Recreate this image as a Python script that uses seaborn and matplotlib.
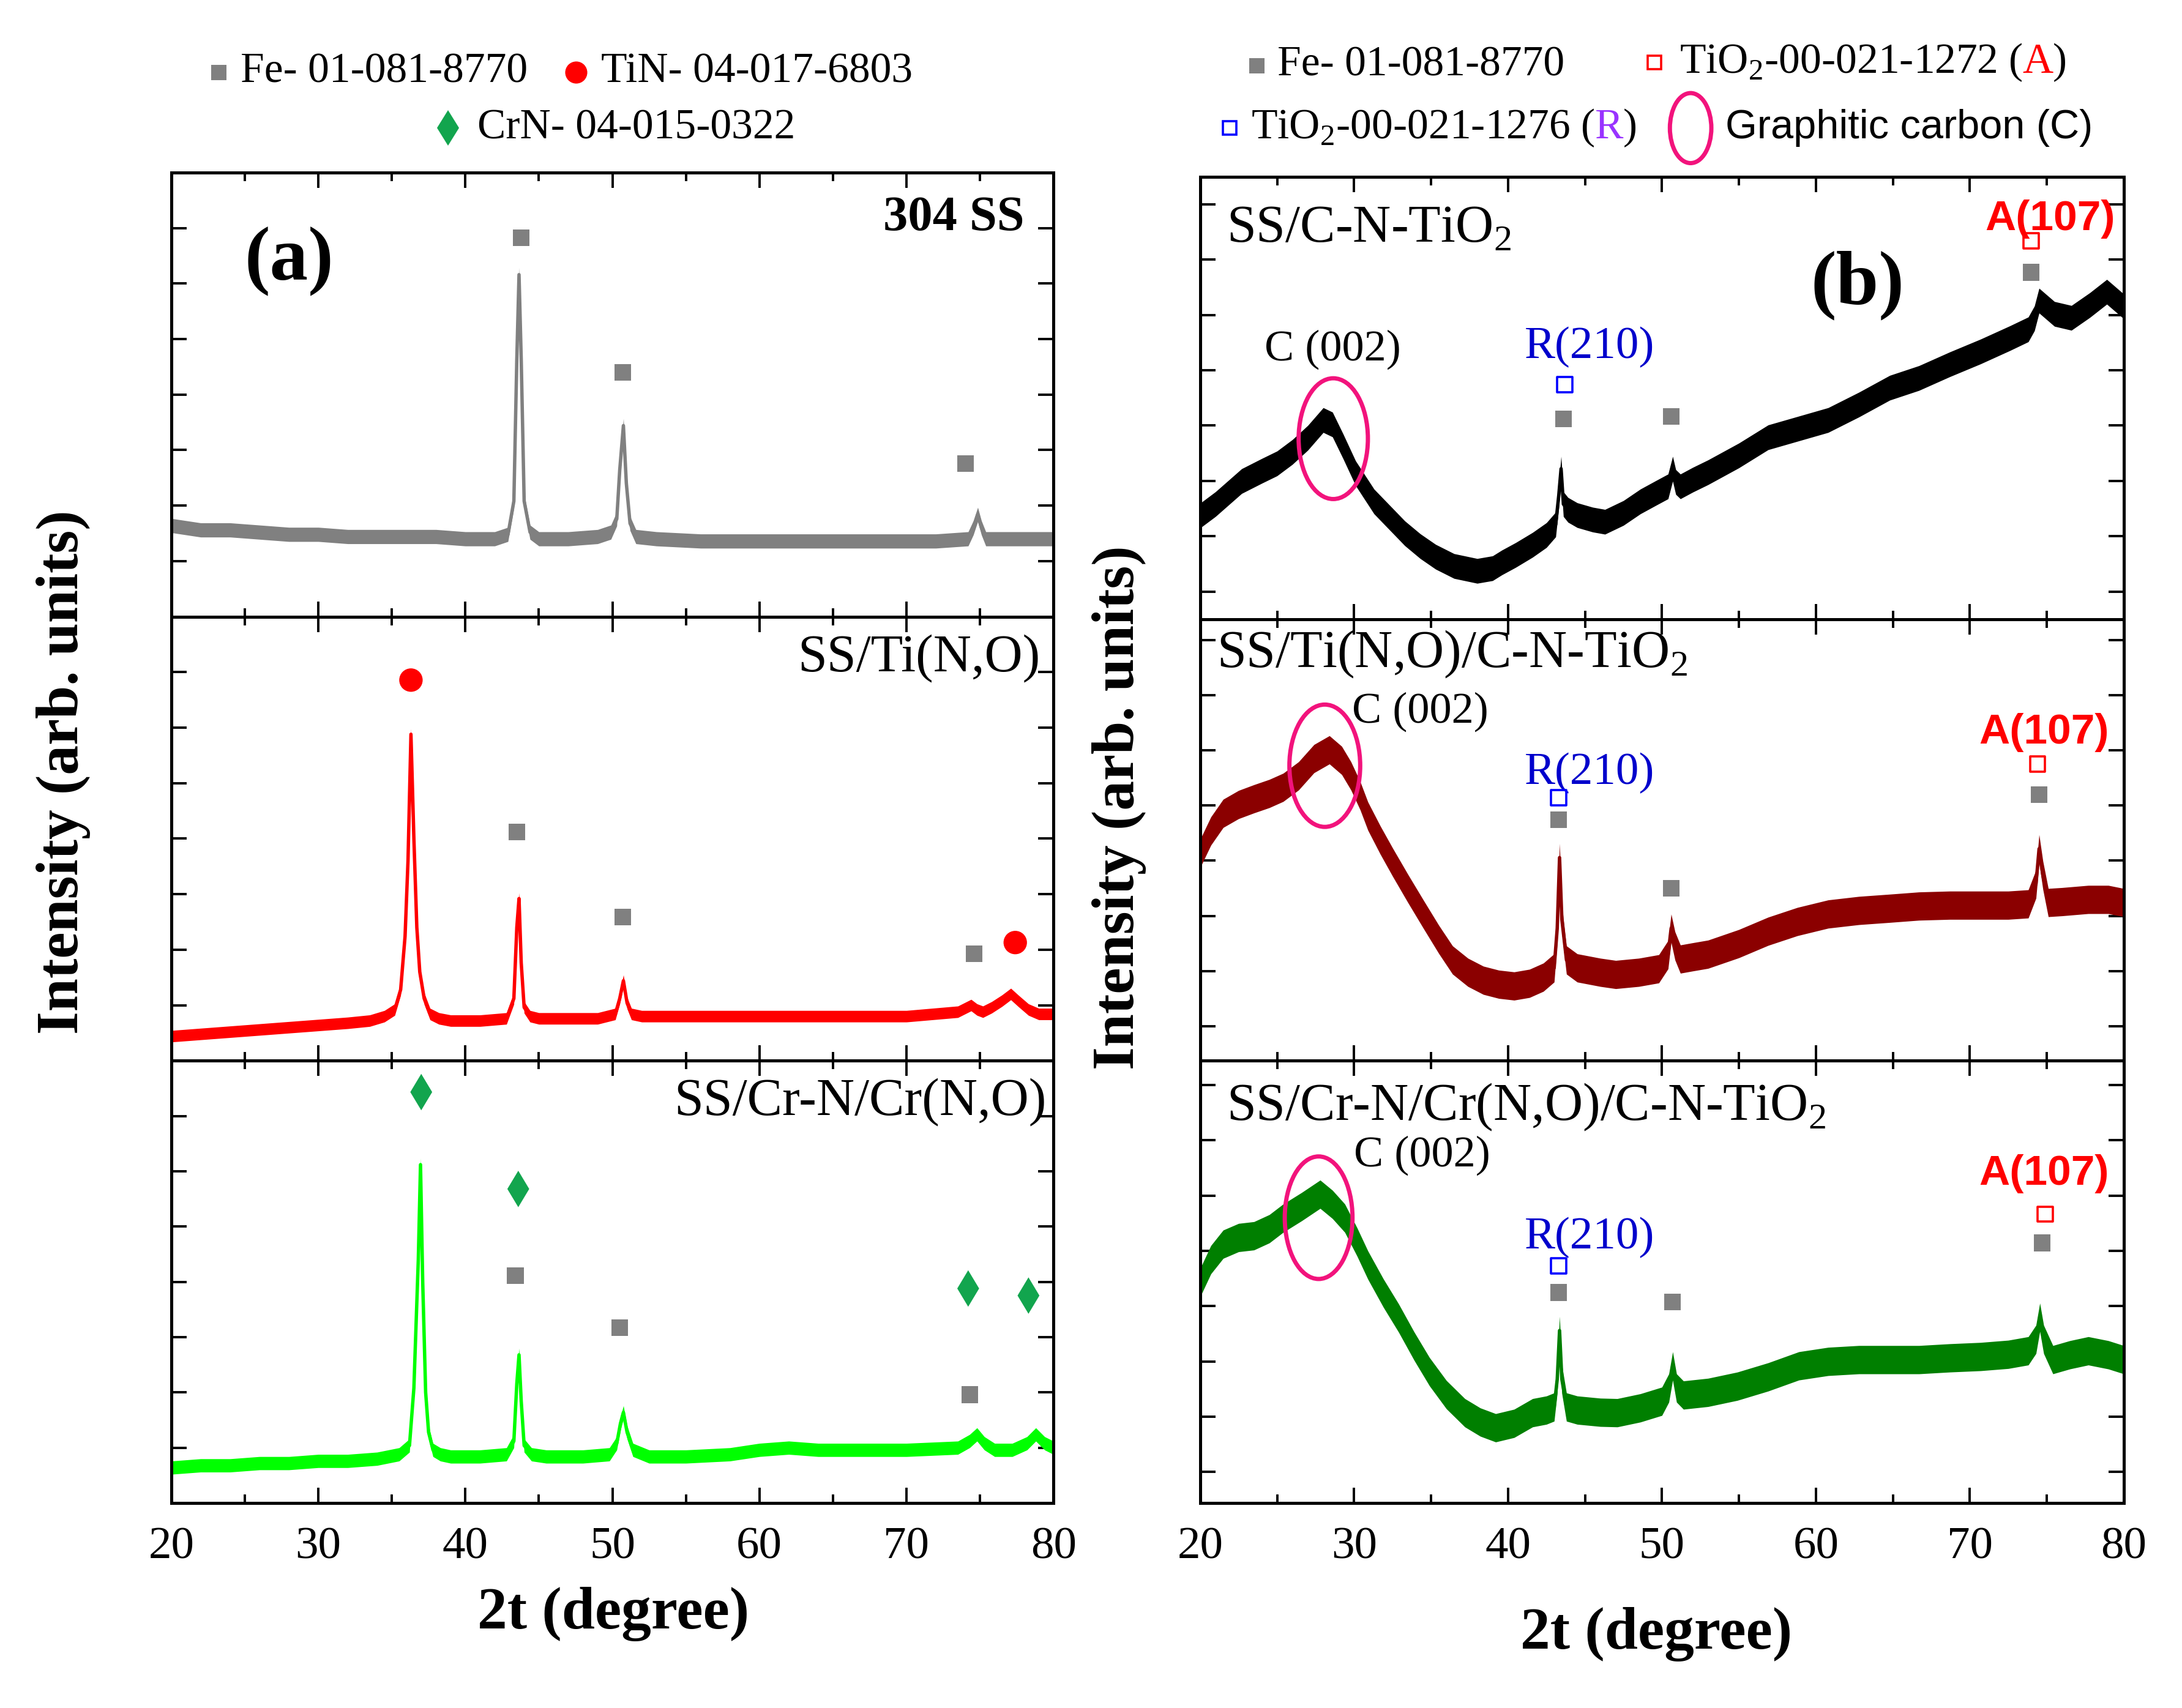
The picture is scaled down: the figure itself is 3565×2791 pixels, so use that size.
import numpy as np
import matplotlib
matplotlib.use("Agg")
import matplotlib.pyplot as plt
import seaborn as sns
from matplotlib.lines import Line2D
from matplotlib.patches import Ellipse
from matplotlib.ticker import MultipleLocator

sns.set_style("ticks")
plt.rcParams["font.family"] = ["Liberation Serif", "DejaVu Serif"]
plt.rcParams["text.color"] = "black"
plt.rcParams["axes.edgecolor"] = "black"
plt.rcParams["xtick.color"] = "black"
plt.rcParams["ytick.color"] = "black"

# ---------------- data (intensity in % of panel height) ----------------
# (a) 304 SS
ss_x = [20, 21, 22, 24, 26, 28, 30, 32, 34, 36, 38, 40, 42, 42.9, 43.3, 43.5, 43.65, 43.8,
        44.0, 44.4, 45, 47, 49, 49.9, 50.3, 50.5, 50.75, 50.95, 51.2, 51.6, 53, 56, 60, 64,
        68, 72, 74.2, 74.55, 74.85, 75.1, 75.4, 77, 80]
ss_y = [20.5, 20, 19.5, 19.5, 19, 18.5, 18.5, 18, 18, 18, 18, 17.5, 17.5, 18.5, 26, 58, 77,
        58, 26, 19, 17.5, 17.5, 18, 19, 22, 33, 43, 30, 21, 18, 17.5, 17, 17, 17, 17, 17,
        17.5, 20, 23, 20, 17.5, 17.5, 17.5]

# (a) SS/Ti(N,O)
ti_x = [20, 22, 24, 26, 28, 30, 32, 33.5, 34.5, 35.2, 35.6, 35.9, 36.1, 36.3, 36.5, 36.7,
        36.9, 37.2, 37.6, 38.2, 39, 41, 42.8, 43.3, 43.5, 43.65, 43.8, 44.0, 44.4, 45, 47,
        49, 50.2, 50.5, 50.75, 51.0, 51.3, 52, 55, 60, 65, 70, 73.5, 74.4, 74.8, 75.2, 75.8,
        76.5, 77.1, 77.6, 78.3, 79, 80]
ti_y = [5.5, 6, 6.5, 7, 7.5, 8, 8.5, 9, 10, 11.5, 16, 28, 45, 73.5, 50, 30, 20, 14, 10.5,
        9.5, 9, 9, 9.5, 14, 30, 36.5, 22, 12, 10, 9.5, 9.5, 9.5, 10.5, 14, 18, 13, 10.5, 10,
        10, 10, 10, 10, 11, 12.5, 11.5, 11, 12, 13.5, 15, 13.5, 11.5, 10.5, 10.5]

# (a) SS/Cr-N/Cr(N,O)
cr_x = [20, 22, 24, 26, 28, 30, 32, 34, 35.5, 36.2, 36.5, 36.8, 36.95, 37.1, 37.3, 37.5,
        37.8, 38.3, 39, 41, 42.8, 43.3, 43.5, 43.65, 43.8, 44.0, 44.5, 45.5, 48, 49.8, 50.3,
        50.55, 50.75, 51.0, 51.4, 52.5, 55, 58, 60, 62, 64, 66, 70, 73.5, 74.3, 74.8, 75.3,
        76, 77.2, 78.2, 78.8, 79.4, 80]
cr_y = [8, 8.5, 8.5, 9, 9, 9.5, 9.5, 10, 11, 13, 26, 55, 76.5, 50, 25, 16, 12, 11, 10.5,
        10.5, 11, 14, 27, 33.5, 23, 13, 11, 10.5, 10.5, 11, 13.5, 18, 20.5, 16, 12, 10.5,
        10.5, 11, 12, 12.5, 12, 12, 12, 12.5, 14, 15.5, 13.5, 12, 12, 13.5, 15.5, 13.5, 12.5]

# (b) SS/C-N-TiO2
cn_x = [20, 21, 22.7, 24, 25, 26, 27, 28, 28.6, 29.3, 30.1, 31.3, 32.3, 33.3, 34.3, 35.3,
        36.5, 38, 39, 39.6, 40.5, 41.6, 42.5, 43.1, 43.3, 43.45, 43.6, 43.9, 44.5, 45.5,
        46.3, 47.5, 48.6, 49.6, 50.4, 50.7, 50.9, 51.2, 52, 53, 55, 56.9, 58.8, 60.8, 62.8,
        64.8, 66.7, 68.7, 70.7, 72.6, 73.8, 74.2, 74.5, 75.5, 76.6, 77.8, 78.9, 80]
cn_y = [23.4, 26, 31.2, 33.5, 35.2, 37.8, 41, 45, 44, 39, 33, 26.6, 23, 19.4, 16.5, 14.1,
        12, 10.9, 11.5, 12.8, 14.5, 16.8, 19, 21.4, 28, 34, 26, 24.7, 23.5, 22.5, 22, 24,
        26.6, 28.5, 30, 34, 31, 30, 31.5, 33.2, 37, 41.1, 43, 45, 48.5, 52.3, 54.5, 57.6,
        60.5, 63.5, 65.5, 68, 72, 69, 68.1, 71, 74, 70.7]

# (b) SS/Ti(N,O)/C-N-TiO2
tcn_x = [20, 20.7, 21.5, 22.5, 23.5, 24.5, 25.4, 26.4, 27.4, 28.4, 29.2, 29.8, 30.4, 30.9,
         31.7, 32.5, 33.5, 34.5, 35.5, 36.4, 37.4, 38.4, 39.4, 40.4, 41.4, 42.3, 43.0, 43.2,
         43.35, 43.5, 43.8, 44.5, 46, 47, 48.5, 49.8, 50.4, 50.6, 50.85, 51.2, 52, 53, 55,
         56.9, 58.8, 60.8, 62.8, 64.8, 66.7, 68.7, 70.7, 72.5, 73.8, 74.3, 74.5, 74.75, 75.1,
         76, 77.7, 79, 80]
tcn_y = [46.9, 52, 56, 58, 59.3, 60.5, 61.9, 64.5, 68.4, 70.4, 68, 64.5, 60, 55.4, 50, 45,
         39, 33.2, 27.5, 22.8, 20, 18.2, 17.3, 16.9, 17.5, 18.9, 21, 30, 46, 32, 22.8, 21,
         20, 19.5, 20, 20.8, 24, 30, 26, 23, 23.5, 24.1, 26.5, 29.3, 31.5, 33.2, 34, 34.5,
         35, 35.2, 35.2, 35.2, 35.5, 40, 48, 42, 35.8, 36, 36.5, 36.5, 35.8]

# (b) SS/Cr-N/Cr(N,O)/C-N-TiO2
ccn_x = [20, 20.7, 21.5, 22.5, 23.5, 24.5, 25.4, 26.6, 27.8, 28.6, 29.4, 30.2, 30.9, 31.9,
         32.9, 33.9, 34.9, 36, 37.2, 38.2, 39.2, 40.4, 41.6, 42.5, 43.0, 43.2, 43.35, 43.5,
         43.8, 44.5, 46, 47.1, 48.6, 50.0, 50.45, 50.7, 50.95, 51.4, 53, 54.9, 56.9, 58.9,
         60.8, 62.8, 64.8, 66.7, 68.7, 70.7, 72.5, 73.8, 74.3, 74.55, 74.8, 75.4, 76.5,
         77.7, 79, 80]
ccn_y = [49.8, 55, 58.5, 60, 60.4, 62, 64.4, 67, 69.8, 67.5, 64.4, 59, 53.8, 47.5, 41.8,
         35.5, 29.7, 24.5, 20.4, 18.3, 17, 18, 20.4, 21, 21.7, 28, 39, 28, 21.7, 21, 20.5,
         20.4, 21.5, 23, 26, 31, 26, 24.4, 25, 26.4, 28.5, 31, 32, 32.4, 32.4, 32.4, 32.8,
         33.1, 33.6, 34.4, 37, 42, 37, 32.4, 33.5, 34.4, 33.5, 32.4]

# noise half-band
ss_band, ti_band, cr_band = 1.6, 1.3, 1.5
cn_band, tcn_band, ccn_band = 2.8, 3.2, 3.2

# reference markers
a1_fe_x, a1_fe_y = [43.8, 50.7, 74.0], [85.3, 55, 34.5]
a2_tin_x, a2_tin_y = [36.3, 77.4], [85.7, 26.6]
a2_fe_x, a2_fe_y = [43.5, 50.7, 74.6], [51.5, 32.4, 24.1]
a3_crn_x, a3_crn_y = [37.0, 43.6, 74.2, 78.3], [92.9, 71, 48.5, 46.9]
a3_fe_x, a3_fe_y = [43.4, 50.5, 74.3], [51.4, 39.6, 24.5]

b1_fe_x, b1_fe_y = [43.6, 50.6, 74.0], [45.3, 45.8, 78.4]
b1_r_x, b1_r_y = [43.7], [53]
b1_a_x, b1_a_y = [74.0], [85.5]
b2_fe_x, b2_fe_y = [43.3, 50.6, 74.5], [54.6, 39, 60.3]
b2_r_x, b2_r_y = [43.3], [59.6]
b2_a_x, b2_a_y = [74.4], [67.2]
b3_fe_x, b3_fe_y = [43.3, 50.7, 74.7], [47.6, 45.4, 58.8]
b3_r_x, b3_r_y = [43.3], [53.6]
b3_a_x, b3_a_y = [74.9], [65.3]

GRAY = "#808080"
MAG = "#f2137c"

fig = plt.figure(figsize=(17.825, 13.955), dpi=200)

left_pos = [[0.0785, 0.639, 0.4043, 0.260], [0.0785, 0.379, 0.4043, 0.260],
            [0.0785, 0.120, 0.4043, 0.259]]
right_pos = [[0.550, 0.6375, 0.4233, 0.259], [0.550, 0.379, 0.4233, 0.2585],
             [0.550, 0.120, 0.4233, 0.259]]


def setup(ax, bottom, ytick0):
    ax.set_xlim(20, 80)
    ax.set_ylim(0, 100)
    ax.xaxis.set_major_locator(MultipleLocator(10))
    ax.xaxis.set_minor_locator(MultipleLocator(5))
    ax.set_yticks(np.arange(ytick0, 100, 12.5))
    ax.tick_params(which="both", direction="in", top=True, right=True, labelleft=False,
                   labelbottom=bottom, labelsize=27, width=1.4, pad=14, colors="black")
    ax.tick_params(which="major", length=9)
    ax.tick_params(which="minor", length=5)
    for sp in ax.spines.values():
        sp.set_linewidth(1.8)
        sp.set_color("black")
    ax.set_xlabel("")
    ax.set_ylabel("")


def curve(ax, x, y, band, color):
    y = np.array(y)
    ax.fill_between(x, y - band, y + band, color=color, lw=0)
    sns.lineplot(x=x, y=y, ax=ax, color=color, lw=2, estimator=None, sort=False)


def fe(ax, x, y):
    sns.scatterplot(x=x, y=y, ax=ax, marker="s", s=95, color=GRAY, edgecolor="none", zorder=5)


def open_sq(ax, x, y, color):
    ax.scatter(x, y, marker="s", s=80, facecolors="none", edgecolors=color, linewidths=1.3,
               zorder=5)


# ---------------- left column ----------------
axa = [fig.add_axes(p) for p in left_pos]

curve(axa[0], ss_x, ss_y, ss_band, GRAY)
fe(axa[0], a1_fe_x, a1_fe_y)
axa[0].text(78.0, 89.7, "304 SS", ha="right", va="center", fontsize=29, fontweight="bold")
axa[0].text(28.0, 80, "(a)", ha="center", va="center", fontsize=45, fontweight="bold")

curve(axa[1], ti_x, ti_y, ti_band, "#ff0000")
fe(axa[1], a2_fe_x, a2_fe_y)
sns.scatterplot(x=a2_tin_x, y=a2_tin_y, ax=axa[1], marker="o", s=190, color="#ff0000",
                edgecolor="none", zorder=5)
axa[1].text(79.1, 90.6, "SS/Ti(N,O)", ha="right", va="center", fontsize=31)

curve(axa[2], cr_x, cr_y, cr_band, "#00ff00")
fe(axa[2], a3_fe_x, a3_fe_y)
sns.scatterplot(x=a3_crn_x, y=a3_crn_y, ax=axa[2], marker="d", s=230, color="#12a54e",
                edgecolor="none", zorder=5)
axa[2].text(79.5, 90.6, "SS/Cr-N/Cr(N,O)", ha="right", va="center", fontsize=31)

for i, ax in enumerate(axa):
    setup(ax, i == 2, 12.5)

# ---------------- right column ----------------
axb = [fig.add_axes(p) for p in right_pos]
b_curves = [(cn_x, cn_y, cn_band, "black"), (tcn_x, tcn_y, tcn_band, "#8b0000"),
            (ccn_x, ccn_y, ccn_band, "#007f00")]
b_fe = [(b1_fe_x, b1_fe_y), (b2_fe_x, b2_fe_y), (b3_fe_x, b3_fe_y)]
b_r = [(b1_r_x, b1_r_y), (b2_r_x, b2_r_y), (b3_r_x, b3_r_y)]
b_a = [(b1_a_x, b1_a_y), (b2_a_x, b2_a_y), (b3_a_x, b3_a_y)]
b_names = ["SS/C-N-TiO$_\\mathregular{2}$", "SS/Ti(N,O)/C-N-TiO$_\\mathregular{2}$",
           "SS/Cr-N/Cr(N,O)/C-N-TiO$_\\mathregular{2}$"]
name_pos = [(21.7, 88), (21.1, 92), (21.7, 89.5)]
c_lab = [(28.6, 61), (34.3, 79), (34.4, 78.5)]
r_lab = [(45.3, 61.5), (45.3, 65.1), (45.3, 60)]
a_lab = [(75.2, 90.5), (74.8, 74.3), (74.8, 74.5)]
ell = [(28.65, 40.8, 4.5, 27.3), (28.1, 66.8, 4.6, 27.7), (27.7, 64.5, 4.4, 27.7)]
ytick0 = [6.25, 7.8, 7.0]

for i, ax in enumerate(axb):
    x, y, band, col = b_curves[i]
    curve(ax, x, y, band, col)
    fe(ax, *b_fe[i])
    open_sq(ax, *b_r[i], "#0000ff")
    open_sq(ax, *b_a[i], "#ff0000")
    ax.text(*name_pos[i], b_names[i], ha="left", va="center", fontsize=31)
    ax.text(*c_lab[i], "C (002)", ha="center", va="center", fontsize=26)
    ax.text(*r_lab[i], "R(210)", ha="center", va="center", fontsize=27, color="#0000cc")
    ax.text(*a_lab[i], "A(107)", ha="center", va="center", fontsize=25, color="#ff0000",
            family="Liberation Sans", fontweight="bold")
    cx, cy, w, h = ell[i]
    ax.add_patch(Ellipse((cx, cy), w, h, fill=False, edgecolor=MAG, lw=2.5, zorder=6))
    setup(ax, i == 2, ytick0[i])
axb[0].text(62.7, 75.5, "(b)", ha="center", va="center", fontsize=45, fontweight="bold")

# ---------------- axis labels ----------------
fig.text(0.029, 0.548, "Intensity (arb. units)", rotation=90, ha="center", va="center",
         fontsize=35, fontweight="bold")
fig.text(0.513, 0.527, "Intensity (arb. units)", rotation=90, ha="center", va="center",
         fontsize=35, fontweight="bold")
fig.text(0.281, 0.055, "2t (degree)", ha="center", va="center", fontsize=35,
         fontweight="bold")
fig.text(0.759, 0.043, "2t (degree)", ha="center", va="center", fontsize=35,
         fontweight="bold")

# ---------------- legends (top) ----------------
renderer = fig.canvas.get_renderer()
fig_w = fig.get_figwidth() * fig.dpi


def text_run(x, y, pieces, size=25, family=None):
    for s, c in pieces:
        kw = {"family": family} if family else {}
        t = fig.text(x, y, s, color=c, fontsize=size, ha="left", va="center", **kw)
        x = t.get_window_extent(renderer).x1 / fig_w


def mark(x, y, **kw):
    fig.add_artist(Line2D([x], [y], transform=fig.transFigure, linestyle="none", **kw))


mark(0.1001, 0.9577, marker="s", markersize=9, color=GRAY, markeredgewidth=0)
text_run(0.1102, 0.9577, [("Fe- 01-081-8770", "black")])
mark(0.2640, 0.9577, marker="o", markersize=13, color="#ff0000", markeredgewidth=0)
text_run(0.2755, 0.9577, [("TiN- 04-017-6803", "black")])
mark(0.2053, 0.925, marker="d", markersize=15, color="#12a54e", markeredgewidth=0)
text_run(0.2188, 0.925, [("CrN- 04-015-0322", "black")])

mark(0.5759, 0.9617, marker="s", markersize=9, color=GRAY, markeredgewidth=0)
text_run(0.5855, 0.9617, [("Fe- 01-081-8770", "black")])
mark(0.7582, 0.9633, marker="s", markersize=8, markerfacecolor="none",
     markeredgecolor="#ff0000", markeredgewidth=1.3)
text_run(0.7697, 0.9633, [("TiO$_\\mathregular{2}$-00-021-1272 (", "black"), ("A", "#ff0000"),
                          (")", "black")])
mark(0.5634, 0.925, marker="s", markersize=8, markerfacecolor="none",
     markeredgecolor="#0000ff", markeredgewidth=1.3)
text_run(0.5734, 0.925, [("TiO$_\\mathregular{2}$-00-021-1276 (", "black"), ("R", "#9933ff"),
                         (")", "black")])
fig.add_artist(Ellipse((0.7748, 0.925), 0.019, 0.041, transform=fig.transFigure, fill=False,
                       edgecolor=MAG, lw=2.5))
text_run(0.7907, 0.925, [("Graphitic carbon (C)", "black")], size=24, family="Liberation Sans")

fig.savefig("out.png", dpi=200)
